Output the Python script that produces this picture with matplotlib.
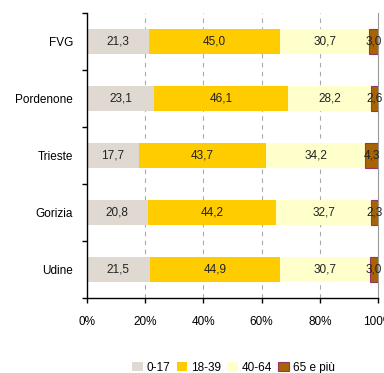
import matplotlib

matplotlib.use("Agg")
import matplotlib.pyplot as plt
import numpy as np

areas = ["FVG", "Pordenone", "Trieste", "Gorizia", "Udine"]
groups = ["0-17", "18-39", "40-64", "65 e più"]
v_0_17 = [21.3, 23.1, 17.7, 20.8, 21.5]
v_18_39 = [45.0, 46.1, 43.7, 44.2, 44.9]
v_40_64 = [30.7, 28.2, 34.2, 32.7, 30.7]
v_65 = [3.0, 2.6, 4.3, 2.3, 3.0]
xticks = [0, 20, 40, 60, 80, 100]

colors = ["#E0D9D1", "#FFCC00", "#FFFFCC", "#A86400"]
edges = ["none", "none", "none", "#993366"]

plt.rcParams["font.family"] = ["Liberation Sans", "DejaVu Sans"]
plt.rcParams["font.size"] = 8.5

fig = plt.figure(figsize=(3.84, 3.73), dpi=100)
ax = fig.add_axes([0.2266, 0.201, 0.758, 0.764])

y = np.arange(len(areas))
series = [v_0_17, v_18_39, v_40_64, v_65]
left = np.zeros(len(areas))
for vals, name, col, ec in zip(series, groups, colors, edges):
    vals = np.array(vals)
    ax.barh(y, vals, left=left, height=0.44, color=col, edgecolor=ec,
            linewidth=0.8 if ec != "none" else 0, label=name, zorder=2)
    for yi, l, v in zip(y, left, vals):
        ax.text(l + v / 2, yi, f"{v:.1f}".replace(".", ","), ha="center",
                va="center", color="#222222", zorder=3)
    left = left + vals

ax.set_xlim(0, 100)
ax.set_ylim(len(areas) - 0.5, -0.5)
ax.set_yticks(y)
ax.set_yticklabels(areas)
ax.tick_params(axis="y", length=0, pad=10)
ax.set_yticks(np.arange(-0.5, len(areas)), minor=True)
ax.tick_params(axis="y", which="minor", length=3.6, width=1, direction="out")
ax.set_xticks(xticks)
ax.set_xticklabels([f"{t}%" for t in xticks])
ax.tick_params(axis="x", length=3.6, width=1, pad=9)

for t in xticks[1:-1]:
    ax.axvline(t, color="#AAAAAA", linestyle=(0, (4, 4)), linewidth=0.8, zorder=1)

ax.spines["top"].set_visible(False)
ax.spines["right"].set_color("#999999")
ax.spines["left"].set_linewidth(1)
ax.spines["bottom"].set_linewidth(1)

handles, labels = ax.get_legend_handles_labels()
fig.legend(handles, labels, loc="lower center", bbox_to_anchor=(0.608, -0.03),
           ncol=4, frameon=False, handlelength=0.9, handleheight=0.9,
           handletextpad=0.35, columnspacing=0.5)

fig.savefig("out.png", dpi=100)
